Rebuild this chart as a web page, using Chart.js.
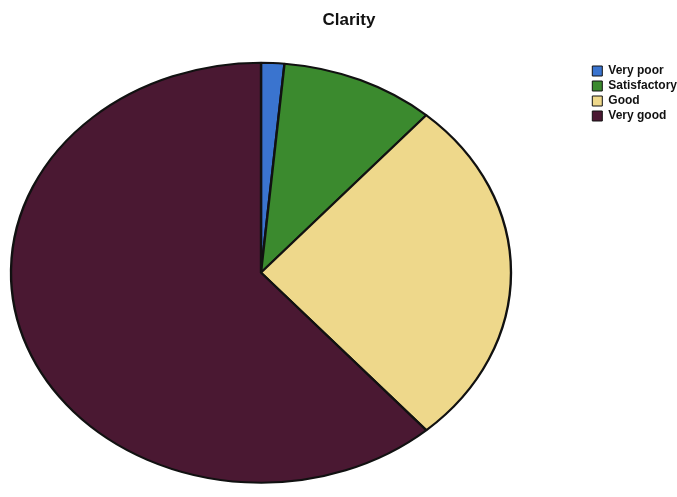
<!DOCTYPE html>
<html>
<head>
<meta charset="utf-8">
<script src="https://cdn.jsdelivr.net/npm/chart.js@4.4.0/dist/chart.umd.min.js"></script>
<style>
  html, body { margin: 0; padding: 0; background: #fff; }
  #wrap { width: 677px; height: 497px; }
</style>
</head>
<body>
<div id="wrap"><canvas id="myChart" width="677" height="497"></canvas></div>
<script>
// categorias e valores (percentual)
let categorias = ['Very poor', 'Satisfactory', 'Good', 'Very good']
let valores = [1.5, 10, 27, 61.5]
let cores = ['#3a74cf', '#3b8a2e', '#eed88b', '#4a1832']

// o grafico original é uma elipse: esticamos só o desenho da pizza
let centroPizzaX = 261
let escalaX = 250 / 210

const elipse = {
    id: 'elipse',
    beforeDatasetsDraw(chart) {
        let arco = chart.getDatasetMeta(0).data[0]
        let ctx = chart.ctx
        ctx.save()
        ctx.translate(centroPizzaX, 0)
        ctx.scale(escalaX, 1)
        ctx.translate(-arco.x, 0)
    },
    afterDatasetsDraw(chart) {
        chart.ctx.restore()
    }
}

let ctx = document.querySelector('#myChart')

let chart = new Chart(ctx, {
    type: 'pie',
    data: {
        labels: categorias,
        datasets: [{
            data: valores,
            backgroundColor: cores,
            borderColor: '#111',
            borderWidth: 2,
            radius: 210
        }]
    },
    options: {
        responsive: false,
        animation: false,
        layout: { padding: { left: 11, right: -10, top: 0, bottom: 0 } },
        plugins: {
            tooltip: { enabled: false },
            title: {
                display: true,
                text: 'Clarity',
                color: '#111',
                font: { family: 'Arial, "Liberation Sans"', size: 17, weight: 'bold' },
                padding: { top: 10, bottom: 18 }
            },
            legend: {
                position: 'right',
                align: 'start',
                // titulo vazio só para empurrar a legenda para baixo
                title: { display: true, text: '', font: { size: 10 }, padding: { top: 0, bottom: 50 } },
                labels: {
                    color: '#111',
                    boxWidth: 10,
                    boxHeight: 10,
                    padding: 3,
                    font: { family: 'Arial, "Liberation Sans"', size: 12, weight: 'bold' },
                    generateLabels(chart) {
                        let itens = Chart.controllers.pie.overrides.plugins.legend.labels.generateLabels(chart)
                        itens.forEach(it => { it.lineWidth = 1 })
                        return itens
                    }
                }
            }
        }
    },
    plugins: [elipse]
})
</script>
</body>
</html>
